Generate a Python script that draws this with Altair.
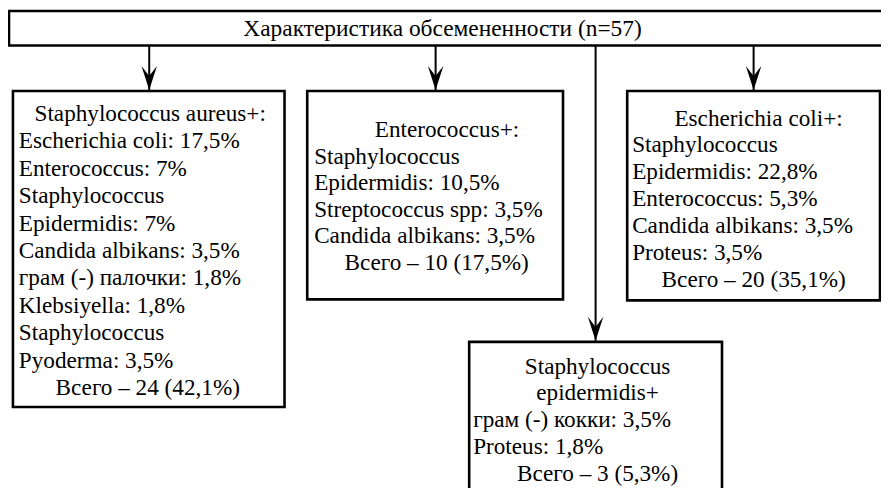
import altair as alt
import pandas as pd

FONT = "'Liberation Serif', 'Times New Roman', Times, serif"
FS_BODY = 23.2
FS_TITLE = 23.4

# ---- boxes (frame in pixels of the reference picture) ----
box_names = ["top", "aureus", "entero", "coli", "epid"]
box_x0 = [6, 10, 308, 632, 472]
box_x1 = [905, 285, 567, 888, 728]
box_y0 = [8, 89, 89, 89, 343]
box_y1 = [43, 409, 300, 301, 520]
box_first_line = [26, 112, 129, 117, 368]
box_line_step = [0, 27.8, 26.8, 27.2, 27.3]
box_title_shift = [0, 1.5, 12, 7, 2]
box_total_shift = [0, -1, 1.5, 2, 2]
box_left_pad = [5, 6, 7, 5, 4]

# ---- texts: (line, role) t=centered title, s=centered total, l=left ----
top_lines = [("Характеристика обсемененности (n=57)", "t")]
aureus_lines = [
    ("Staphylococcus aureus+:", "t"),
    ("Escherichia coli: 17,5%", "l"),
    ("Enterococcus: 7%", "l"),
    ("Staphylococcus", "l"),
    ("Epidermidis: 7%", "l"),
    ("Candida albikans: 3,5%", "l"),
    ("грам (-) палочки: 1,8%", "l"),
    ("Klebsiyella: 1,8%", "l"),
    ("Staphylococcus", "l"),
    ("Pyoderma: 3,5%", "l"),
    ("Всего – 24 (42,1%)", "s"),
]
entero_lines = [
    ("Enterococcus+:", "t"),
    ("Staphylococcus", "l"),
    ("Epidermidis: 10,5%", "l"),
    ("Streptococcus spp: 3,5%", "l"),
    ("Candida albikans: 3,5%", "l"),
    ("Всего – 10 (17,5%)", "s"),
]
coli_lines = [
    ("Escherichia coli+:", "t"),
    ("Staphylococcus", "l"),
    ("Epidermidis: 22,8%", "l"),
    ("Enterococcus: 5,3%", "l"),
    ("Candida albikans: 3,5%", "l"),
    ("Proteus: 3,5%", "l"),
    ("Всего – 20 (35,1%)", "s"),
]
epid_lines = [
    ("Staphylococcus", "t"),
    ("epidermidis+", "t"),
    ("грам (-) кокки: 3,5%", "l"),
    ("Proteus: 1,8%", "l"),
    ("Всего – 3 (5,3%)", "s"),
]
all_lines = [top_lines, aureus_lines, entero_lines, coli_lines, epid_lines]

# ---- connectors ----
arrow_x = [148, 438, 600, 760]
arrow_from_y = [43, 43, 43, 43]
arrow_to_y = [88, 88, 342, 88]

# ---- build tables ----
boxes = pd.DataFrame({"name": box_names, "x0": box_x0, "x1": box_x1,
                      "y0": box_y0, "y1": box_y1})

rows = []
for i, lines in enumerate(all_lines):
    for k, (t, role) in enumerate(lines):
        y = box_first_line[i] + k * box_line_step[i]
        if role == "l":
            x = box_x0[i] + box_left_pad[i]
            a = "l"
        else:
            right = min(box_x1[i], 884)
            shift = box_title_shift[i] if role == "t" else box_total_shift[i]
            x = (box_x0[i] + right) / 2 + shift
            a = "c"
        rows.append({"text": t, "x": x, "y": y, "align": a,
                     "fs": FS_TITLE if i == 0 else FS_BODY})
texts = pd.DataFrame(rows)

arrows = pd.DataFrame({"x": arrow_x, "y0": arrow_from_y, "y1": arrow_to_y})

# uniform ~0.988 scale of the reference frame onto the 873x480 plot area
xs = alt.Scale(domain=[5, 889], nice=False, zero=False)
ys = alt.Scale(domain=[5, 491], nice=False, zero=False, reverse=True)

rects = alt.Chart(boxes).mark_rect(
    fill="white", stroke="black", strokeWidth=2.6, clip=True
).encode(
    x=alt.X("x0:Q", scale=xs, axis=None),
    x2="x1:Q",
    y=alt.Y("y0:Q", scale=ys, axis=None),
    y2="y1:Q",
)

lines = alt.Chart(arrows).mark_rule(color="black", strokeWidth=2).encode(
    x=alt.X("x:Q", scale=xs, axis=None),
    y=alt.Y("y0:Q", scale=ys, axis=None),
    y2="y1:Q",
)

dart = "M0,0 L-1,-3.1 L0,-1.8 L1,-3.1 Z"
heads = alt.Chart(arrows).mark_point(
    shape=dart, filled=True, color="black", size=240, opacity=1
).encode(
    x=alt.X("x:Q", scale=xs, axis=None),
    y=alt.Y("y1:Q", scale=ys, axis=None),
)

txt_c = alt.Chart(texts).transform_filter(alt.datum.align == "c").mark_text(
    font=FONT, align="center", baseline="middle", color="black"
).encode(
    x=alt.X("x:Q", scale=xs, axis=None),
    y=alt.Y("y:Q", scale=ys, axis=None),
    text="text:N",
    size=alt.Size("fs:Q", scale=None, legend=None),
)
txt_l = alt.Chart(texts).transform_filter(alt.datum.align == "l").mark_text(
    font=FONT, align="left", baseline="middle", color="black"
).encode(
    x=alt.X("x:Q", scale=xs, axis=None),
    y=alt.Y("y:Q", scale=ys, axis=None),
    text="text:N",
    size=alt.Size("fs:Q", scale=None, legend=None),
)

chart = alt.layer(rects, lines, heads, txt_c, txt_l).properties(
    width=873, height=480, padding=0, autosize=alt.AutoSizeParams(type="none"),
    background="white",
).configure_view(stroke=None)

chart.save("out.html", embed_options={"renderer": "svg", "actions": False})
